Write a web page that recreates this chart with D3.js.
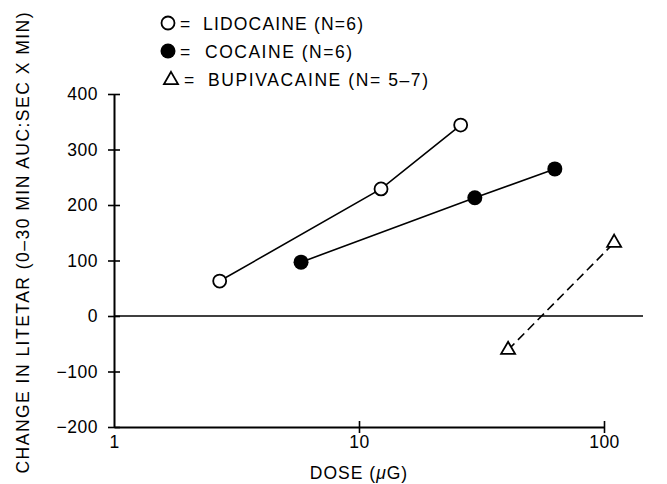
<!DOCTYPE html>
<html>
<head>
<meta charset="utf-8">
<script src="https://cdn.jsdelivr.net/npm/d3@7"></script>
<style>
  html, body { margin: 0; padding: 0; background: #fff; }
  svg text { font-family: "Liberation Sans", Arial, sans-serif; fill: #000; }
</style>
</head>
<body>
<svg id="chart" width="667" height="484"></svg>
<script>
// ---- data ----
const lidocaineDose = [2.7, 12.3, 26];
const lidocaineValue = [63, 229, 344];
const cocaineDose = [5.8, 29.7, 63];
const cocaineValue = [97, 213, 265];
const bupivacaineDose = [40.6, 110];
const bupivacaineValue = [-61, 132];

const xTicks = [1, 10, 100];
const yTicks = [-200, -100, 0, 100, 200, 300, 400];
const legendLabels = ["LIDOCAINE (N=6)", "COCAINE (N=6)", "BUPIVACAINE (N= 5\u20137)"];
const yTitle = "CHANGE IN LITETAR (0\u201330 MIN AUC:SEC X MIN)";

// ---- layout ----
const svg = d3.select("#chart");
const x = d3.scaleLog().domain([1, 100]).range([114, 604]);
const y = d3.scaleLinear().domain([-200, 400]).range([427, 94]);
const fs = 17.5;

// zero line
svg.append("line")
  .attr("x1", x(1)).attr("x2", 643)
  .attr("y1", y(0)).attr("y2", y(0))
  .attr("stroke", "#000").attr("stroke-width", 1.6);

// y axis
const yAxis = svg.append("g").attr("transform", `translate(${x(1)},0)`)
  .call(d3.axisLeft(y).tickValues(yTicks).tickSize(6).tickSizeOuter(0).tickPadding(10)
        .tickFormat(d => d < 0 ? "\u2212" + Math.abs(d) : d));
yAxis.select(".domain").attr("stroke-width", 2);
yAxis.selectAll(".tick line").attr("x2", 6).attr("x1", -6).attr("stroke-width", 1.6);
yAxis.selectAll(".tick text").attr("font-size", fs).attr("font-family", "Liberation Sans, Arial, sans-serif")
  .attr("letter-spacing", 0.5);

// x axis
const xAxis = svg.append("g").attr("transform", `translate(0,${y(-200)})`)
  .call(d3.axisBottom(x).tickValues(xTicks).tickSize(6).tickSizeOuter(0).tickPadding(3)
        .tickFormat(d3.format("d")));
xAxis.select(".domain").attr("stroke-width", 2);
xAxis.selectAll(".tick line").attr("y1", -6).attr("y2", 6).attr("stroke-width", 1.6);
xAxis.selectAll(".tick").filter(d => d === 1).select("line").remove();
xAxis.selectAll(".tick text").attr("font-size", fs).attr("font-family", "Liberation Sans, Arial, sans-serif")
  .attr("letter-spacing", 0.5);

// axis titles
const xt = svg.append("text").attr("x", (x(1) + x(100)) / 2).attr("y", 479)
  .attr("text-anchor", "middle").attr("font-size", fs).attr("letter-spacing", 1);
xt.append("tspan").text("DOSE (");
xt.append("tspan").attr("font-style", "italic").text("\u03BC");
xt.append("tspan").text("G)");

svg.append("text")
  .attr("transform", "translate(29,243) rotate(-90)")
  .attr("text-anchor", "middle").attr("font-size", fs)
  .attr("textLength", 461).attr("lengthAdjust", "spacing")
  .text(yTitle);

// series
const series = [
  { dose: lidocaineDose, value: lidocaineValue, kind: "open", dash: null },
  { dose: cocaineDose, value: cocaineValue, kind: "filled", dash: null },
  { dose: bupivacaineDose, value: bupivacaineValue, kind: "tri", dash: "9,5" }
];
const line = d3.line().x(d => x(d[0])).y(d => y(d[1]));

series.forEach(s => {
  const pts = s.dose.map((d, i) => [d, s.value[i]]);
  svg.append("path").attr("d", line(pts))
    .attr("fill", "none").attr("stroke", "#000").attr("stroke-width", 1.6)
    .attr("stroke-dasharray", s.dash);
  pts.forEach(p => drawMarker(x(p[0]), y(p[1]), s.kind));
});

function drawMarker(cx, cy, kind) {
  if (kind === "open") {
    svg.append("circle").attr("cx", cx).attr("cy", cy).attr("r", 6.5)
      .attr("fill", "#fff").attr("stroke", "#000").attr("stroke-width", 1.8);
  } else if (kind === "filled") {
    svg.append("circle").attr("cx", cx).attr("cy", cy).attr("r", 7.5)
      .attr("fill", "#000");
  } else {
    svg.append("path").attr("d", d3.symbol(d3.symbolTriangle, 85)())
      .attr("transform", `translate(${cx},${cy})`)
      .attr("fill", "#fff").attr("stroke", "#000").attr("stroke-width", 1.8);
  }
}

// legend
const kinds = ["open", "filled", "tri"];
const legendStart = [203, 205, 208];
const legendWidth = [160, 147, 220];
legendLabels.forEach((lab, i) => {
  const ly = 23 + i * 28;
  const mx = i === 2 ? 171 : 168;
  drawMarker(mx, ly + (i === 2 ? 1 : 0), kinds[i]);
  svg.append("text").attr("x", 180 + (i === 2 ? 4 : 0)).attr("y", ly + 6.5)
    .attr("font-size", fs).text("=");
  svg.append("text").attr("x", legendStart[i]).attr("y", ly + 6.5)
    .attr("font-size", fs)
    .attr("textLength", legendWidth[i]).attr("lengthAdjust", "spacing")
    .text(lab);
});
</script>
</body>
</html>
